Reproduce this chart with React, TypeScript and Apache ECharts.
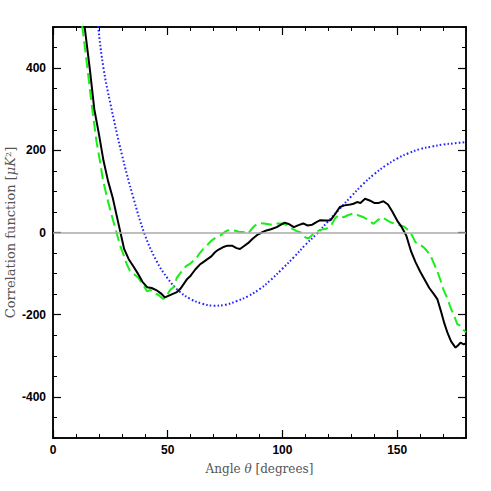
import React, { useEffect, useRef } from "react";
import * as echarts from "echarts";

const xMajorTicks = [0, 50, 100, 150];
const yMajorTicks = [-400, -200, 0, 200, 400];

const blackCurve: [number, number][] = [
  [12, 620], [13.8, 500], [16, 400], [18, 300], [20, 240], [22, 175], [24, 125], [26, 85], [28, 35], [29.4, 0],
  [31, -40], [33, -65], [35, -82], [37, -100], [39, -120], [41, -133], [43, -135], [45, -140], [47, -148],
  [48.8, -158], [50, -155], [52, -150], [54, -145], [55.5, -137], [57, -125], [58.5, -113], [60, -105],
  [62, -90], [64, -78], [65.5, -72], [67, -66], [69, -58], [70.6, -48], [72, -42], [74, -36], [76, -32],
  [78, -32], [80, -38], [81.5, -40], [83, -34], [85, -26], [87, -15], [89, -6], [91, 0], [93, 5], [95, 8],
  [97.5, 13], [99, 18], [101, 24], [103, 20], [105, 13], [107, 18], [109, 22], [111, 17], [113, 19],
  [115, 26], [116.5, 30], [119, 29], [121, 30], [123, 45], [125, 62], [127, 66], [129.6, 68], [131, 70],
  [132.5, 74], [134, 72], [136, 82], [138, 78], [140, 72], [142, 72], [144, 76], [146, 68], [148, 50],
  [150, 29], [152, 13], [154, -8], [156, -45], [158, -72], [160, -95], [162, -115], [164, -135],
  [166, -150], [167.5, -162], [169, -190], [170.5, -220], [172, -245], [173.5, -265], [175.4, -280],
  [176.5, -275], [177.6, -268], [179, -272], [180, -270],
];

const greenCurve: [number, number][] = [
  [11, 620], [12.8, 500], [15, 400], [16.8, 314], [19, 220], [20.4, 176], [21.8, 127], [24, 75], [26.2, 29],
  [27.7, 0], [29, -28], [30.6, -52], [32, -75], [33.5, -93], [35, -100], [37, -109], [39, -125], [41, -143],
  [42.5, -140], [44, -147], [46, -152], [48, -162], [49.5, -155], [51, -140], [52.5, -133], [54, -110],
  [56, -95], [58, -82], [60, -75], [62.5, -62], [64, -50], [65.5, -40], [67, -32], [69, -20], [71, -12],
  [73, -7], [75, 2], [77, 7], [79, 5], [81, 2], [83, 1], [85, -3], [86.5, 8], [88, 17], [90, 23], [92, 22],
  [94, 20], [96, 18], [98, 22], [100, 22], [102, 18], [104, 10], [106, 4], [108, 0], [110, -12],
  [111.5, -14], [113.5, -3], [115, 3], [117, 7], [119, 9], [121, 15], [123, 35], [124.5, 42], [126.6, 37],
  [128.5, 42], [131, 47], [133, 42], [135.4, 37], [137.5, 30], [139.7, 21], [141.5, 30], [143.4, 37],
  [145, 32], [147, 25], [150, 20], [152.8, 15], [155, 5], [156.5, -7], [158, -24], [160, -30],
  [161.6, -36], [163, -45], [164.5, -56], [166, -75], [167.4, -93], [169, -118], [170.3, -141],
  [172, -162], [173.2, -182], [175, -205], [176.2, -223], [177.6, -227], [179, -238], [180, -243],
];

const blueCurve: [number, number][] = [
  [17, 650], [19.7, 500], [22, 400], [25, 314], [30, 190], [35, 85], [40, -5], [45, -68], [50, -112],
  [55, -143], [60, -162], [65, -173], [70, -178], [75, -176], [80, -167], [85, -155], [90, -138],
  [95, -115], [100, -88], [105, -60], [110, -30], [115, -3], [120, 28], [125, 58], [130, 88], [135, 117],
  [140, 142], [145, 163], [150, 180], [155, 193], [160, 203], [165, 209], [170, 214], [175, 217], [180, 220],
];

const tickFont = { fontFamily: "Liberation Sans, Arial, sans-serif", fontSize: 12, fontWeight: "bold", color: "#000" };
const nameFont = { fontFamily: "DejaVu Serif, serif", color: "#555" };
const axisLine = { show: true, onZero: false, lineStyle: { color: "#000", width: 1.5 } };

export default function App() {
  const ref = useRef<HTMLDivElement>(null);
  useEffect(() => {
    if (!ref.current) return;
    const chart = echarts.init(ref.current, undefined, { renderer: "svg" });
    const xBase = { type: "value", min: 0, max: 180, splitLine: { show: false }, axisLine };
    const yBase = { type: "value", min: -500, max: 500, splitLine: { show: false }, axisLine };
    chart.setOption({
      animation: false,
      backgroundColor: "#fff",
      grid: { left: 53, right: 25, top: 27, bottom: 53, containLabel: false, outerBoundsMode: "none" },
      xAxis: [
        {
          ...xBase, position: "bottom", interval: 10,
          axisTick: { show: true, inside: true, length: 4, lineStyle: { color: "#000", width: 1 } },
          axisLabel: { show: false },
        },
        {
          ...xBase, position: "bottom",
          axisTick: { show: true, inside: true, length: 8, customValues: xMajorTicks, lineStyle: { color: "#000", width: 1.2 } },
          axisLabel: { show: true, customValues: xMajorTicks, margin: 6, ...tickFont },
          name: "Angle {i|θ} [degrees]",
          nameLocation: "middle",
          nameGap: 25,
          nameTextStyle: { ...nameFont, fontSize: 12, rich: { i: { ...nameFont, fontSize: 12, fontStyle: "italic" } } },
        },
        {
          ...xBase, position: "top", interval: 10,
          axisTick: { show: true, inside: true, length: 4, lineStyle: { color: "#000", width: 1 } },
          axisLabel: { show: false },
        },
        {
          ...xBase, position: "top",
          axisTick: { show: true, inside: true, length: 8, customValues: xMajorTicks, lineStyle: { color: "#000", width: 1.2 } },
          axisLabel: { show: false },
        },
      ],
      yAxis: [
        {
          ...yBase, position: "left", interval: 50,
          axisTick: { show: true, inside: true, length: 4, lineStyle: { color: "#000", width: 1 } },
          axisLabel: { show: false },
        },
        {
          ...yBase, position: "left",
          axisTick: { show: true, inside: true, length: 8, customValues: yMajorTicks, lineStyle: { color: "#000", width: 1.2 } },
          axisLabel: { show: true, customValues: yMajorTicks, margin: 7, ...tickFont },
          name: "Correlation function [{i|μK}²]",
          nameLocation: "middle",
          nameGap: 36,
          nameRotate: 90,
          nameMoveOverlap: false,
          nameTextStyle: { ...nameFont, fontSize: 13, rich: { i: { ...nameFont, fontSize: 13, fontStyle: "italic" } } },
        },
        {
          ...yBase, position: "right", interval: 50,
          axisTick: { show: true, inside: true, length: 4, lineStyle: { color: "#000", width: 1 } },
          axisLabel: { show: false },
        },
        {
          ...yBase, position: "right",
          axisTick: { show: true, inside: true, length: 8, customValues: yMajorTicks, lineStyle: { color: "#000", width: 1.2 } },
          axisLabel: { show: false },
        },
      ],
      series: [
        {
          type: "line", name: "model", data: blueCurve, smooth: 0.4, symbol: "none", clip: true,
          lineStyle: { color: "#2222ff", width: 2, type: [1.6, 2.2] },
          markLine: {
            silent: true, symbol: "none", label: { show: false },
            lineStyle: { color: "#aaaaaa", width: 1.5, type: "solid" },
            data: [{ yAxis: 0 }],
          },
        },
        {
          type: "line", name: "green", data: greenCurve, symbol: "none", clip: true,
          lineStyle: { color: "#18ee18", width: 2, type: [11, 5] },
        },
        {
          type: "line", name: "black", data: blackCurve, symbol: "none", clip: true,
          lineStyle: { color: "#000", width: 2 },
        },
      ],
    });
    return () => chart.dispose();
  }, []);
  return <div ref={ref} style={{ position: "fixed", left: 0, top: 0, width: 491, height: 491 }} />;
}
